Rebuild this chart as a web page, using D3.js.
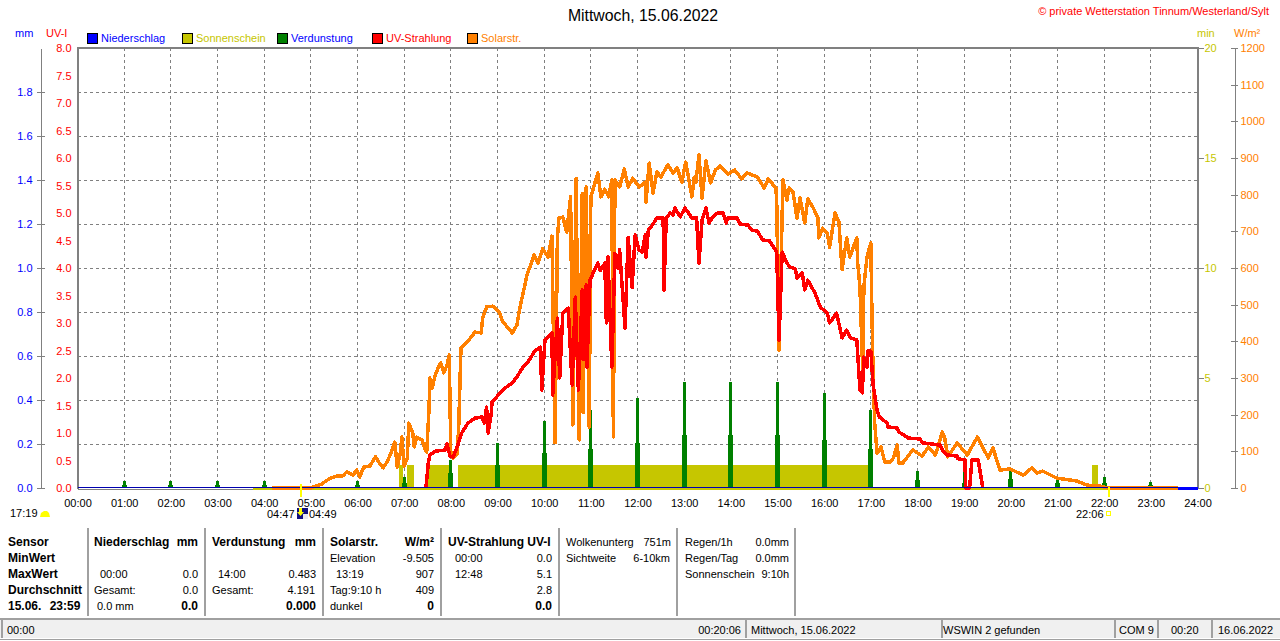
<!DOCTYPE html>
<html>
<head>
<meta charset="utf-8">
<script src="https://cdn.jsdelivr.net/npm/d3@7"></script>
<style>
  html, body { margin: 0; padding: 0; background: #fff; overflow: hidden; }
  svg { display: block; }
  text { font-family: "Liberation Sans", Arial, sans-serif; font-size: 11px; }
</style>
</head>
<body>
<svg id="chart" width="1280" height="641"></svg>
<script>
// values; times are minutes since midnight
const hours = d3.range(0, 25);
const legendNames = ['Niederschlag', 'Sonnenschein', 'Verdunstung', 'UV-Strahlung', 'Solarstr.'];

// Verdunstung per hour: peak and lower shoulder, mm
const evapHours = [1,2,3,4,6,7,8,9,10,11,12,13,14,15,16,17,18,19,20,21,22,23];
const evapPeak = [.032,.032,.032,.032,.032,.05,.127,.205,.305,.355,.409,.483,.483,.483,.432,.355,.077,.105,.077,.05,.05,.027];
const evapShoulder = [.014,.014,.014,.014,.014,.023,.068,.105,.159,.177,.205,.241,.241,.241,.218,.177,.036,.023,.041,.023,.023,.014];

// Sonnenschein: [from, to, minutes]
const sunBars = [[413,418,1.05],[424,432,1.05],[451,482,1.05],[489,1023,1.05],[1304,1312,1.05]];
const sunZero = [226, 1325];
const rainZero = [0, 1440];
const rainEnd = [1415, 1440];

// Solarstrahlung W/m2
const solar = [[250,0],[300,0],[314,11],[325,27],[334,33],[341,33],[346,44],[354,35],[359,49],[363,30],[368,57],[376,60],
  [383,85],[389,65],[393,55],[398,71],[402,90],[408,125],[411,57],[415,95],[417,139],[420,60],[424,82],[426,177],[431,150],
  [433,112],[436,139],[443,131],[447,104],[449,98],[452,218],[453,300],[456,273],[460,308],[464,330],[467,341],[471,314],
  [475,335],[478,363],[480,90],[483,82],[488,93],[490,158],[493,382],[501,398],[511,425],[519,423],[521,464],[526,494],
  [534,496],[542,480],[547,453],[559,423],[565,445],[569,494],[578,581],[587,635],[592,614],[598,652],[605,630],[610,687],
  [614,123],[617,682],[619,736],[624,739],[629,698],[634,794],[637,172],[641,845],[645,131],[649,804],[650,205],[654,821],
  [658,166],[660,794],[669,859],[673,794],[678,815],[683,794],[687,840],[689,139],[691,840],[697,821],[703,870],[708,821],
  [714,845],[722,821],[730,834],[731,780],[735,886],[740,804],[745,862],[750,848],[759,881],[766,859],[771,873],[777,834],
  [782,889],[790,794],[793,848],[795,834],[799,908],[803,791],[808,892],[814,832],[820,867],[826,878],[836,856],[845,867],
  [854,843],[861,859],[874,848],[883,818],[888,843],[898,818],[899,777],[902,376],[907,840],[912,785],[915,818],[920,807],
  [925,736],[929,791],[935,723],[939,788],[946,764],[952,736],[953,682],[958,709],[964,695],[967,657],[974,750],[979,725],
  [983,595],[989,682],[993,630],[997,655],[1002,682],[1003,616],[1006,548],[1010,295],[1011,548],[1015,630],[1020,668],
  [1021,526],[1023,303],[1025,177],[1028,95],[1033,112],[1038,71],[1045,71],[1049,82],[1054,117],[1056,68],[1061,68],
  [1074,104],[1086,87],[1094,112],[1103,90],[1112,153],[1115,136],[1119,85],[1131,123],[1144,90],[1157,139],[1171,82],
  [1177,109],[1186,49],[1199,52],[1216,35],[1227,55],[1234,41],[1241,46],[1259,27],[1285,19],[1298,8],[1315,5],[1325,0],[1415,0]];

// UV-Index
const uv = [[448,0],[451,.45],[453,.6],[460,.67],[473,.69],[475,.8],[479,.58],[483,.56],[489,.78],[494,1],[502,1.18],[511,1.27],
  [520,1.29],[523,1.18],[526,1.47],[528,1],[532,1.36],[533,1.56],[541,1.69],[550,1.82],[559,1.91],[565,2.02],[572,2.18],
  [579,2.29],[588,2.49],[595,2.56],[597,1.78],[601,2.69],[610,2.82],[611,1.69],[617,3.09],[620,2],[624,3.18],[631,3.27],
  [636,1.87],[640,3.47],[644,1.78],[649,3.6],[650,2.33],[654,3.69],[655,2.2],[659,3.78],[663,3.91],[669,4.09],[672,3.95],
  [678,4.09],[680,3],[682,4.2],[687,2.2],[691,4.27],[695,4],[697,4.33],[704,2.91],[708,4.56],[713,3.64],[717,4.6],[722,4.33],
  [726,4.29],[730,4.6],[731,4.2],[734,4.69],[739,4.78],[745,4.91],[753,4.91],[754,3.6],[757,4.91],[762,5],[766,4.96],[768,5.09],
  [775,4.93],[781,5.09],[790,4.91],[796,4.91],[799,4.09],[803,4.87],[808,5.09],[812,4.82],[817,4.93],[823,5],[830,5],[834,4.82],
  [836,4.91],[848,4.91],[852,4.8],[862,4.78],[867,4.69],[874,4.67],[881,4.51],[890,4.49],[899,4.29],[902,2.69],[906,4.29],
  [912,4.09],[916,4.02],[923,3.98],[925,3.82],[932,3.91],[935,3.6],[939,3.78],[948,3.55],[955,3.29],[964,3.18],[967,3],[976,3.18],
  [983,2.73],[989,2.87],[994,2.73],[1002,2.69],[1006,1.78],[1009,1.73],[1011,2.38],[1015,2.2],[1016,2.49],[1020,2.49],[1023,1.87],
  [1028,1.42],[1031,1.29],[1041,1.18],[1042,1.11],[1054,1.09],[1056,1.02],[1068,.91],[1083,.89],[1087,.82],[1109,.78],[1112,.69],
  [1118,.6],[1131,.58],[1132,.53],[1141,.51],[1142,0],[1147,0],[1150,.51],[1158,.51],[1164,0]];

// summary table below the chart: [text, x, row, bold, right aligned]
const tableCells = [
  ['Sensor',8,0,1],['MinWert',8,1,1],['MaxWert',8,2,1],['Durchschnitt',8,3,1],['15.06. 23:59',8,4,1],
  ['Niederschlag',94,0,1],['mm',198,0,1,1],['00:00',100,2],['0.0',198,2,0,1],['Gesamt:',94,3],['0.0',198,3,0,1],['0.0 mm',97,4],['0.0',198,4,1,1],
  ['Verdunstung',212,0,1],['mm',316,0,1,1],['14:00',218,2],['0.483',316,2,0,1],['Gesamt:',212,3],['4.191',315,3,0,1],['0.000',316,4,1,1],
  ['Solarstr.',330,0,1],['W/m²',434,0,1,1],['Elevation',330,1],['-9.505',434,1,0,1],['13:19',336,2],['907',434,2,0,1],['Tag:9:10 h',330,3],['409',434,3,0,1],['dunkel',330,4],['0',434,4,1,1],
  ['UV-Strahlung UV-I',448,0,1],['00:00',455,1],['0.0',552,1,0,1],['12:48',455,2],['5.1',552,2,0,1],['2.8',552,3,0,1],['0.0',552,4,1,1],
  ['Wolkenunterg',566,0],['751m',671,0,0,1],['Sichtweite',566,1],['6-10km',670,1,0,1],
  ['Regen/1h',685,0],['0.0mm',789,0,0,1],['Regen/Tag',685,1],['0.0mm',789,1,0,1],['Sonnenschein',685,2],['9:10h',789,2,0,1]
];
const tableDividers = [88, 205, 323, 441, 559, 677, 795];
const statusDividers = [745, 941, 1114, 1157, 1211];
const statusTexts = [['00:00',7,0],['00:20:06',741,1],['Mittwoch, 15.06.2022',751,0],['WSWIN 2 gefunden',943,0],['COM 9',1119,0],['00:20',1171,0],['16.06.2022',1218,0]];

const colors = { rain:'#0000ff', sun:'#c6c600', evap:'#008000', uv:'#ff0000', solar:'#ff8000', grid:'#808080' };
const legendColors = [colors.rain, colors.sun, colors.evap, colors.uv, colors.solar];
const legendTextColors = [colors.rain, colors.sun, colors.rain, colors.uv, colors.solar];

const plotL = 77.5, plotR = 1197.5, plotT = 48, plotB = 488;
const svg = d3.select('#chart');

const x = d3.scaleLinear().domain([0, 1440]).range([plotL, plotR]);
const yUv = d3.scaleLinear().domain([0, 8]).range([plotB, plotT]);
const yMm = d3.scaleLinear().domain([0, 2]).range([plotB, plotT]);
const yMin = d3.scaleLinear().domain([0, 20]).range([plotB, plotT]);
const ySolar = d3.scaleLinear().domain([0, 1200]).range([plotB, plotT]);

// grid
const grid = svg.append('g').attr('stroke', colors.grid).attr('stroke-dasharray', '3,3').attr('shape-rendering', 'crispEdges');
hours.slice(1, 24).forEach(h => grid.append('line').attr('x1', x(h*60)).attr('x2', x(h*60)).attr('y1', plotT).attr('y2', plotB));
d3.range(1, 10).forEach(i => {
  const v = i * 0.2;
  grid.append('line').attr('x1', plotL).attr('x2', plotR).attr('y1', yMm(v)).attr('y2', yMm(v));
});

// bottom edge sits under the zero lines
svg.append('line').attr('x1', plotL).attr('x2', plotR).attr('y1', plotB+1.5).attr('y2', plotB+1.5).attr('stroke', colors.grid).attr('shape-rendering', 'crispEdges');

// sunshine
const marks = svg.append('g').attr('shape-rendering', 'crispEdges');
marks.selectAll('rect.sun').data(sunBars).join('rect').attr('class', 'sun')
  .attr('x', d => x(d[0])).attr('width', d => x(d[1]) - x(d[0]))
  .attr('y', d => yMin(d[2])).attr('height', d => yMin(0) - yMin(d[2]))
  .attr('fill', colors.sun);
marks.append('line').attr('x1', x(sunZero[0])).attr('x2', x(sunZero[1])).attr('y1', yMin(0)+1).attr('y2', yMin(0)+1)
  .attr('stroke', colors.sun).attr('stroke-width', 2);

// evaporation, narrow peak on a wider shoulder
evapHours.forEach((h, i) => {
  marks.append('rect').attr('x', x(h*60)-1.5).attr('width', 3).attr('y', yMm(evapPeak[i])).attr('height', yMm(0)-yMm(evapPeak[i])).attr('fill', colors.evap);
  marks.append('rect').attr('x', x(h*60)-2.5).attr('width', 5).attr('y', yMm(evapShoulder[i])).attr('height', yMm(0)-yMm(evapShoulder[i])).attr('fill', colors.evap);
});

const solarLine = d3.line().x(d => x(d[0])).y(d => ySolar(d[1]));
const uvLine = d3.line().x(d => x(d[0])).y(d => yUv(d[1]));
marks.append('path').attr('d', solarLine(solar)).attr('fill', 'none').attr('stroke', colors.solar).attr('stroke-width', 3.5).attr('stroke-linejoin', 'round');
marks.append('path').attr('d', uvLine(uv)).attr('fill', 'none').attr('stroke', colors.uv).attr('stroke-width', 3.5).attr('stroke-linejoin', 'round');

// frame
const frame = svg.append('g').attr('shape-rendering', 'crispEdges');
frame.append('path').attr('d', d3.line()([[plotL, plotB+1], [plotL, plotT], [plotR, plotT], [plotR, plotB+1]]))
  .attr('fill', 'none').attr('stroke', colors.grid).attr('stroke-width', 2);

// rain stays at zero all day
frame.append('line').attr('x1', x(rainZero[0])).attr('x2', x(rainZero[1])).attr('y1', yMm(0)-.5).attr('y2', yMm(0)-.5).attr('stroke', '#0000b0').attr('stroke-width', 1);
frame.append('line').attr('x1', x(rainEnd[0])).attr('x2', x(rainEnd[1])).attr('y1', yMm(0)+.5).attr('y2', yMm(0)+.5).attr('stroke', colors.rain).attr('stroke-width', 3);

// axes
function styleAxis(g, color) {
  g.selectAll('.domain').attr('stroke', colors.grid).attr('shape-rendering', 'crispEdges');
  g.selectAll('.tick line').attr('stroke', colors.grid).attr('shape-rendering', 'crispEdges');
  g.selectAll('text').attr('fill', color).style('font-size', '11px');
  g.attr('font-family', null).attr('font-size', null);
}
const axisMm = svg.append('g').attr('transform', 'translate(40.5,0)')
  .call(d3.axisLeft(yMm).tickValues(d3.range(0, 10).map(i => i * 0.2)).tickFormat(d3.format('.1f')).tickSize(4).tickPadding(4).tickSizeOuter(0));
styleAxis(axisMm, colors.rain);
axisMm.selectAll('.tick line').attr('x2', 4).attr('x1', -4);
const axisUv = svg.append('g').attr('transform', `translate(${plotL},0)`)
  .call(d3.axisLeft(yUv).tickValues(d3.range(0, 17).map(i => i * 0.5)).tickFormat(d3.format('.1f')).tickSize(0).tickPadding(6));
styleAxis(axisUv, colors.uv);
axisUv.select('.domain').remove();
const axisMin = svg.append('g').attr('transform', `translate(${plotR},0)`)
  .call(d3.axisRight(yMin).tickValues([0, 5, 10, 15, 20]).tickSize(6).tickPadding(1).tickSizeOuter(0));
styleAxis(axisMin, colors.sun);
axisMin.select('.domain').remove();
const axisSolar = svg.append('g').attr('transform', 'translate(1234.5,0)')
  .call(d3.axisRight(ySolar).tickValues(d3.range(0, 1300, 100)).tickFormat(d3.format('d')).tickSize(3).tickPadding(3).tickSizeOuter(0));
styleAxis(axisSolar, colors.solar);
axisSolar.selectAll('.tick line').attr('x1', -4).attr('x2', 3);
const axisTime = svg.append('g').attr('transform', `translate(0,${plotB})`)
  .call(d3.axisBottom(x).tickValues(hours.map(h => h*60)).tickSize(0).tickPadding(11)
    .tickFormat(m => String(m/60).padStart(2, '0') + ':00'));
styleAxis(axisTime, '#000');
axisTime.select('.domain').remove();

// labels on top
function label(t, px, py, color, opts) {
  opts = opts || {};
  return svg.append('text').attr('x', px).attr('y', py).attr('fill', color || '#000')
    .attr('text-anchor', opts.anchor || 'start').attr('font-weight', opts.bold ? 'bold' : null)
    .style('font-size', (opts.size || 11) + 'px').text(t);
}
label('Mittwoch, 15.06.2022', 643, 21, '#000', { anchor: 'middle', size: 15.8 });
label('© private Wetterstation Tinnum/Westerland/Sylt', 1269, 15, colors.uv, { anchor: 'end' });
label('mm', 15, 37, colors.rain);
label('UV-I', 46, 37, colors.uv);
label('min', 1197, 37, colors.sun);
label('W/m²', 1234, 37, colors.solar);

const legendX = [87, 182, 277, 372, 467];
legendNames.forEach((name, i) => {
  svg.append('rect').attr('x', legendX[i]+.5).attr('y', 33.5).attr('width', 10).attr('height', 10)
    .attr('fill', legendColors[i]).attr('stroke', '#000').attr('shape-rendering', 'crispEdges');
  label(name, legendX[i] + 14, 42, legendTextColors[i]);
});

// sunrise / sunset marks
label('17:19', 10, 517);
svg.append('path').attr('d', 'M40,517 L41,513 L44,511 L47,511 L49,513 L50,517 Z').attr('fill', '#ffff00');
label('04:47', 267, 518);
label('04:49', 309, 518);
label('22:06', 1076, 518);
svg.append('rect').attr('x', 297).attr('y', 508).attr('width', 11).attr('height', 11).attr('fill', '#101080');
svg.append('rect').attr('x', 303).attr('y', 514).attr('width', 5).attr('height', 5).attr('fill', '#e8e8f0');
svg.append('path').attr('d', 'M299,508 H302 V512 H304 L300.5,516 L297,512 H299 Z').attr('fill', '#ffff00');
svg.append('rect').attr('x', 1106.5).attr('y', 511.5).attr('width', 4).attr('height', 4).attr('fill', 'none').attr('stroke', '#ffff00');
[[300.5, 484, 497], [1108.5, 487, 497]].forEach(d =>
  svg.append('line').attr('x1', d[0]).attr('x2', d[0]).attr('y1', d[1]).attr('y2', d[2]).attr('stroke', '#ffff00').attr('stroke-width', 2).attr('shape-rendering', 'crispEdges'));

// table
const rowY = [546, 562, 578, 594, 610];
tableCells.forEach(c => {
  const t = label(c[0], c[1], rowY[c[2]], '#000', { bold: c[3], anchor: c[4] ? 'end' : 'start', size: c[3] ? 12 : 11 });
  if (c[0] === '15.06. 23:59') t.style('word-spacing', '5px');
});
tableDividers.forEach(dx => svg.append('line').attr('x1', dx).attr('x2', dx).attr('y1', 528).attr('y2', 616)
  .attr('stroke', '#a0a0a0').attr('stroke-width', 2).attr('shape-rendering', 'crispEdges'));

// status bar
svg.append('rect').attr('x', 0).attr('y', 618).attr('width', 1280).attr('height', 2).attr('fill', '#a0a0a0');
svg.append('rect').attr('x', 0).attr('y', 620).attr('width', 1280).attr('height', 18).attr('fill', '#f0f0f0');
svg.append('rect').attr('x', 0).attr('y', 639).attr('width', 1280).attr('height', 1).attr('fill', '#a0a0a0');
svg.append('rect').attr('x', 1).attr('y', 620).attr('width', 2).attr('height', 18).attr('fill', '#a0a0a0');
statusDividers.forEach(dx => svg.append('rect').attr('x', dx).attr('y', 620).attr('width', 2).attr('height', 18).attr('fill', '#a0a0a0'));
statusTexts.forEach(s => label(s[0], s[1], 634, '#000', { anchor: s[2] ? 'end' : 'start' }));
</script>
</body>
</html>
